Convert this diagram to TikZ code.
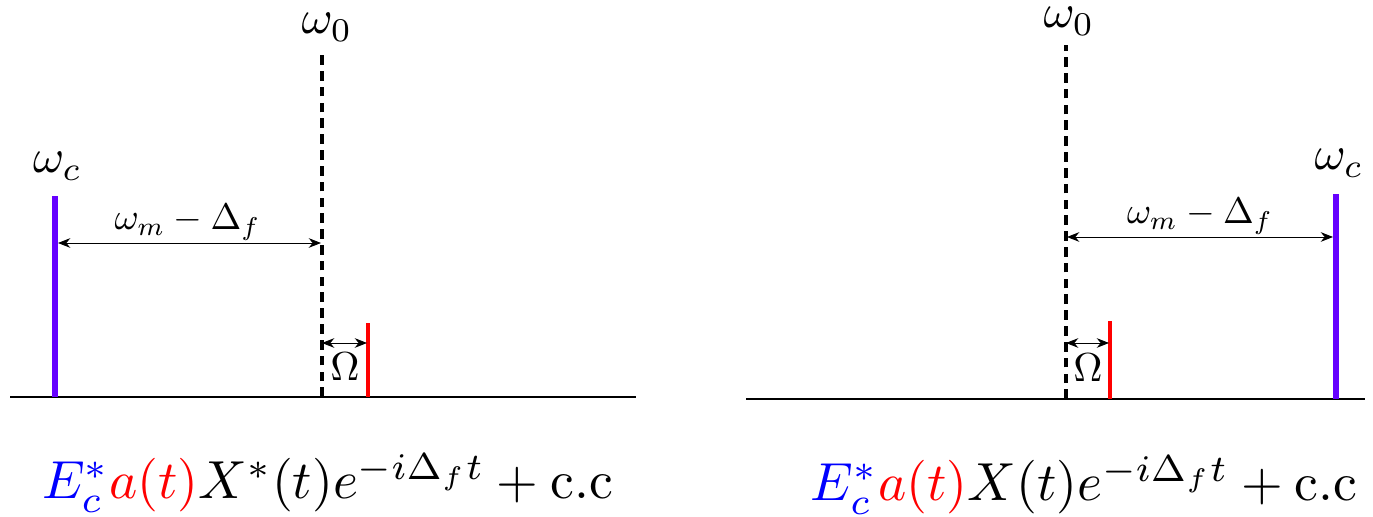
\documentclass[tikz,border=0pt]{standalone}
\usepackage{amsmath}
\usetikzlibrary{arrows.meta}
\definecolor{pumpviolet}{RGB}{102,0,255}
\tikzset{
  axisline/.style={line width=1.7pt},
  pumpline/.style={pumpviolet, line width=2.9pt},
  sideline/.style={red, line width=1.9pt},
  resline/.style={line width=1.8pt, dash pattern=on 5.5pt off 3.5pt},
  dimarrow/.style={{Stealth[length=7pt,width=5.5pt]}-{Stealth[length=7pt,width=5.5pt]}, line width=0.5pt},
  freqlabel/.style={anchor=base, font=\fontsize{10}{12}\selectfont, scale=2.7, transform shape},
  gaplabel/.style={anchor=base, font=\fontsize{10}{12}\selectfont, scale=2.1, transform shape},
  omlabel/.style={anchor=base, font=\fontsize{10}{12}\selectfont, scale=2.3, transform shape},
  formula/.style={anchor=base, font=\fontsize{10}{12}\selectfont, scale=3.05, transform shape}
}
\begin{document}
\begin{tikzpicture}
  \useasboundingbox (0,0) rectangle (27.46,10.34);

  % --- left panel ---
  \coordinate (axL1) at (0.2,2.4);
  \coordinate (axL2) at (12.72,2.4);
  \draw[axisline] (axL1) -- (axL2);

  % pump line
  \coordinate (pumpLb) at (1.1,2.4);
  \coordinate (pumpLt) at (1.1,6.42);
  \draw[pumpline] (pumpLb) -- (pumpLt);
  \node[freqlabel] (wcL) at (1.15,6.88) {$\omega_c$};

  % resonance
  \coordinate (resLb) at (6.44,2.4);
  \coordinate (resLt) at (6.44,9.24);
  \draw[resline] (resLb) -- (resLt);
  \node[freqlabel] (w0L) at (6.54,9.66) {$\omega_0$};

  % sideband
  \coordinate (sideLb) at (7.36,2.4);
  \coordinate (sideLt) at (7.36,3.88);
  \draw[sideline] (sideLb) -- (sideLt);

  % detunings
  \coordinate (dimLa) at (1.16,5.48);
  \coordinate (dimLb) at (6.42,5.48);
  \draw[dimarrow] (dimLa) -- (dimLb);
  \node[gaplabel] (detL) at (3.75,5.74) {$\omega_m-\Delta_f$};
  \coordinate (omLa) at (6.44,3.48);
  \coordinate (omLb) at (7.34,3.48);
  \draw[dimarrow] (omLa) -- (omLb);
  \node[omlabel] (OmL) at (6.9,2.72) {$\Omega$};

  \node[formula] (eqL) at (6.55,0.36)
    {$\textcolor{blue}{E_c^*}\textcolor{red}{a(t)}X^*(t)e^{-i\Delta_f t}+\text{c.c}$};

  % --- right panel ---
  \coordinate (axR1) at (14.92,2.36);
  \coordinate (axR2) at (27.3,2.36);
  \draw[axisline] (axR1) -- (axR2);

  % resonance
  \coordinate (resRb) at (21.32,2.36);
  \coordinate (resRt) at (21.32,9.44);
  \draw[resline] (resRb) -- (resRt);
  \node[freqlabel] (w0R) at (21.38,9.78) {$\omega_0$};

  % pump line
  \coordinate (pumpRb) at (26.72,2.36);
  \coordinate (pumpRt) at (26.72,6.46);
  \draw[pumpline] (pumpRb) -- (pumpRt);
  \node[freqlabel] (wcR) at (26.78,6.94) {$\omega_c$};

  % sideband
  \coordinate (sideRb) at (22.2,2.36);
  \coordinate (sideRt) at (22.2,3.92);
  \draw[sideline] (sideRb) -- (sideRt);

  % detunings
  \coordinate (dimRa) at (21.34,5.6);
  \coordinate (dimRb) at (26.66,5.6);
  \draw[dimarrow] (dimRa) -- (dimRb);
  \node[gaplabel] (detR) at (24.0,5.86) {$\omega_m-\Delta_f$};
  \coordinate (omRa) at (21.32,3.48);
  \coordinate (omRb) at (22.18,3.48);
  \draw[dimarrow] (omRa) -- (omRb);
  \node[omlabel] (OmR) at (21.76,2.7) {$\Omega$};

  \node[formula] (eqR) at (21.68,0.32)
    {$\textcolor{blue}{E_c^*}\textcolor{red}{a(t)}X(t)e^{-i\Delta_f t}+\text{c.c}$};
\end{tikzpicture}
\end{document}
